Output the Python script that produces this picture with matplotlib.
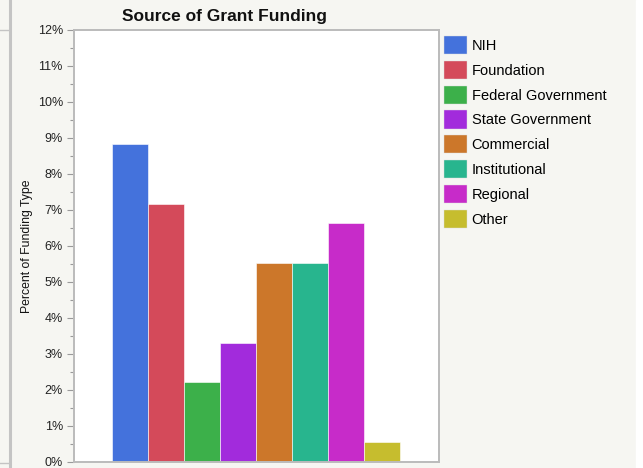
import matplotlib
matplotlib.use('Agg')
import matplotlib.pyplot as plt
from matplotlib.patches import Patch
from matplotlib.lines import Line2D
from matplotlib.ticker import MultipleLocator, FuncFormatter

# Funding sources and percent of total
sources = ["NIH", "Foundation", "Federal Government", "State Government",
           "Commercial", "Institutional", "Regional", "Other"]
percents = [8.84, 7.18, 2.21, 3.31, 5.52, 5.52, 6.63, 0.55]
colors = ["#4472DC", "#D44A5A", "#3CB04A", "#A22BDC",
          "#CC772A", "#28B58E", "#C72BC9", "#C6BD2E"]

plt.rcParams['font.family'] = ['Liberation Sans', 'DejaVu Sans']

BG = '#F6F6F2'
fig = plt.figure(figsize=(6.43, 4.68), dpi=100, facecolor=BG)

# white strip on the far right edge, like the screenshot
fig.add_artist(plt.Rectangle((636 / 643, 0), 7 / 643, 1, transform=fig.transFigure,
                             color='white', zorder=0))
# leftover border of a neighbouring panel
fig.add_artist(Line2D([10 / 643, 10 / 643], [0, 1], transform=fig.transFigure,
                      color='#C4C4C4', lw=2.2))
fig.add_artist(Line2D([0, 8 / 643], [1 - 30 / 468, 1 - 30 / 468], transform=fig.transFigure,
                      color='#C4C4C4', lw=1))
fig.add_artist(Line2D([0, 8 / 643], [1 - 463 / 468, 1 - 463 / 468], transform=fig.transFigure,
                      color='#C4C4C4', lw=1))

ax = fig.add_axes([74 / 643, 6 / 468, 365 / 643, 432 / 468])
ax.set_facecolor('white')

x = range(len(sources))
ax.bar(x, percents, width=1.0, color=colors, edgecolor='white', linewidth=0.4)

ax.set_xlim(-1.57, 8.58)
ax.set_ylim(0, 12)
ax.set_xticks([])
ax.yaxis.set_major_locator(MultipleLocator(1))
ax.yaxis.set_minor_locator(MultipleLocator(0.5))
ax.yaxis.set_major_formatter(FuncFormatter(lambda v, p: f'{v:.0f}%'))
ax.tick_params(axis='y', which='major', length=5, width=0.8, color='#9A9A9A',
               labelsize=9, labelcolor='#222222', pad=3)
ax.tick_params(axis='y', which='minor', length=3, width=0.8, color='#9A9A9A')
for s in ax.spines.values():
    s.set_color('#BBBBBB')
    s.set_linewidth(1.4)

fig.text(224 / 643, 1 - 17 / 468, 'Source of Grant Funding', ha='center', va='center',
         fontsize=12.5, fontweight='bold', color='#111111')
fig.text(27 / 643, 1 - 246 / 468, 'Percent of Funding Type', rotation=90,
         ha='center', va='center', fontsize=8.8, color='#111111')

handles = [Patch(facecolor=c, edgecolor='#DDDDDD', linewidth=0.3) for c in colors]
fig.legend(handles, sources, loc='upper left', bbox_to_anchor=(441 / 643, 1 - 33 / 468),
           frameon=False, fontsize=10.5, handlelength=1.6, handleheight=1.55,
           handletextpad=0.3, labelspacing=0.45, borderaxespad=0, borderpad=0.2)

fig.savefig('out.png', dpi=100, facecolor=BG)
